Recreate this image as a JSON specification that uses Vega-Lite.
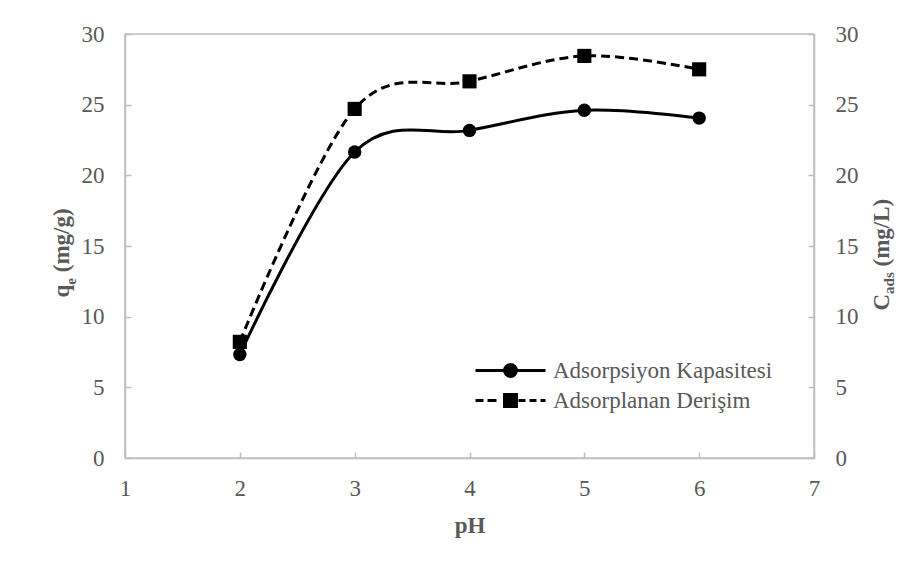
{
  "$schema": "https://vega.github.io/schema/vega-lite/v6.json",
  "width": 689,
  "height": 424,
  "autosize": {"type": "none"},
  "padding": {"left": 125, "top": 34, "right": 106, "bottom": 111},
  "background": "white",
  "data": {
    "values": [
      {"pH": 2, "qe": 7.32, "cads": 8.22},
      {"pH": 3, "qe": 21.65, "cads": 24.7},
      {"pH": 4, "qe": 23.18, "cads": 26.65},
      {"pH": 5, "qe": 24.6, "cads": 28.45},
      {"pH": 6, "qe": 24.05, "cads": 27.5}
    ]
  },
  "resolve": {"scale": {"x": "independent", "y": "independent"}},
  "layer": [
    {
      "mark": {"type": "line", "interpolate": "cardinal", "color": "black", "strokeWidth": 3},
      "encoding": {
        "x": {"field": "pH", "type": "quantitative", "scale": {"domain": [1, 7], "nice": false, "zero": false},
          "axis": {"orient": "bottom", "values": [1, 2, 3, 4, 5, 6, 7], "labelPadding": 25, "labelFlush": false, "labelOverlap": false,
            "title": "pH", "titleX": 344.5, "titleY": 74, "titleAlign": "center", "titleBaseline": "alphabetic", "titleAngle": 0}},
        "y": {"field": "qe", "type": "quantitative", "scale": {"domain": [0, 30], "nice": false},
          "axis": {"orient": "left", "values": [0, 5, 10, 15, 20, 25, 30], "labelPadding": 27, "labelFlush": false, "labelOverlap": false,
            "title": "q", "titleX": -57, "titleY": 263, "titleAngle": 270, "titleAlign": "left", "titleBaseline": "alphabetic"}}
      }
    },
    {
      "mark": {"type": "point", "filled": true, "shape": "circle", "size": 180, "opacity": 1, "color": "black"},
      "encoding": {
        "x": {"field": "pH", "type": "quantitative", "scale": {"domain": [1, 7], "nice": false, "zero": false},
          "axis": {"orient": "bottom", "domain": false, "ticks": false, "labels": false,
            "title": "e", "titleFontSize": 15, "titleX": -50, "titleY": -173.8, "titleAngle": 270, "titleAlign": "left", "titleBaseline": "alphabetic"}},
        "y": {"field": "qe", "type": "quantitative", "scale": {"domain": [0, 30], "nice": false},
          "axis": {"orient": "left", "domain": false, "ticks": false, "labels": false,
            "title": "(mg/g)", "titleX": -57, "titleY": 237.7, "titleAngle": 270, "titleAlign": "left", "titleBaseline": "alphabetic"}}
      }
    },
    {
      "mark": {"type": "line", "interpolate": "cardinal", "color": "black", "strokeWidth": 3, "strokeDash": [9, 5]},
      "encoding": {
        "x": {"field": "pH", "type": "quantitative", "scale": {"domain": [1, 7], "nice": false, "zero": false},
          "axis": {"orient": "bottom", "domain": false, "ticks": false, "labels": false,
            "title": "ads", "titleFontSize": 15, "titleX": 768, "titleY": -164.6, "titleAngle": 270, "titleAlign": "left", "titleBaseline": "alphabetic"}},
        "y": {"field": "cads", "type": "quantitative", "scale": {"domain": [0, 30], "nice": false},
          "axis": {"orient": "right", "values": [0, 5, 10, 15, 20, 25, 30], "labelPadding": 27, "labelFlush": false, "labelOverlap": false,
            "title": "C", "titleX": 74, "titleY": 276, "titleAngle": 270, "titleAlign": "left", "titleBaseline": "alphabetic"}}
      }
    },
    {
      "mark": {"type": "point", "filled": true, "shape": "square", "size": 200, "opacity": 1, "color": "black"},
      "encoding": {
        "x": {"field": "pH", "type": "quantitative", "scale": {"domain": [1, 7], "nice": false, "zero": false}, "axis": null},
        "y": {"field": "cads", "type": "quantitative", "scale": {"domain": [0, 30], "nice": false},
          "axis": {"orient": "right", "domain": false, "ticks": false, "labels": false,
            "title": "(mg/L)", "titleX": 74, "titleY": 232, "titleAngle": 270, "titleAlign": "left", "titleBaseline": "alphabetic"}}
      }
    },
    {
      "mark": {"type": "point", "filled": false, "color": "black", "strokeWidth": 3, "opacity": 0},
      "encoding": {
        "x": {"field": "pH", "type": "quantitative", "scale": {"domain": [1, 7], "nice": false, "zero": false}, "axis": null},
        "y": {"field": "qe", "type": "quantitative", "scale": {"domain": [0, 30], "nice": false}, "axis": null},
        "shape": {"datum": "Adsorpsiyon Kapasitesi", "type": "nominal",
          "scale": {"domain": ["Adsorpsiyon Kapasitesi", "Adsorplanan Derişim"],
            "range": ["M-4.375,0H4.375M-0.75,0A0.75,0.75 0 1,0 0.75,0A0.75,0.75 0 1,0 -0.75,0M-0.45,0A0.45,0.45 0 1,0 0.45,0A0.45,0.45 0 1,0 -0.45,0M-0.15,0A0.15,0.15 0 1,0 0.15,0A0.15,0.15 0 1,0 -0.15,0",
                      "M-4.375,0H-3.375M-2.875,0H-1.75M-0.75,-0.75H0.75V0.75H-0.75ZM-0.45,-0.45H0.45V0.45H-0.45ZM-0.15,-0.15H0.15V0.15H-0.15ZM1,0H1.875M2.375,0H3.25M3.75,0H4.375"]},
          "legend": {
            "orient": "none", "legendX": 374, "legendY": 325, "title": null, "padding": 0,
            "symbolSize": 256, "symbolStrokeWidth": 3, "symbolOpacity": 1,
            "symbolStrokeColor": "black",
            "labelOffset": 31, "rowPadding": 5,
            "labelFont": "Liberation Serif", "labelFontSize": 23, "labelColor": "#595959", "labelLimit": 400
          }}
      }
    },
    {
      "mark": {"type": "point", "filled": false, "color": "black", "strokeWidth": 3, "opacity": 0},
      "encoding": {
        "x": {"field": "pH", "type": "quantitative", "scale": {"domain": [1, 7], "nice": false, "zero": false}, "axis": null},
        "y": {"field": "cads", "type": "quantitative", "scale": {"domain": [0, 30], "nice": false}, "axis": null},
        "shape": {"datum": "Adsorplanan Derişim", "type": "nominal"}
      }
    }
  ],
  "config": {
    "font": "Liberation Serif",
    "view": {"stroke": "#BFBFBF", "strokeWidth": 1.5},
    "axis": {
      "labelFont": "Liberation Serif", "labelFontSize": 23, "labelColor": "#595959",
      "titleFont": "Liberation Serif", "titleFontSize": 23, "titleFontWeight": "bold", "titleColor": "#595959",
      "domainColor": "#BFBFBF", "domainWidth": 1.5, "tickColor": "#BFBFBF", "tickWidth": 1.5, "tickSize": -6, "grid": false
    }
  }
}
